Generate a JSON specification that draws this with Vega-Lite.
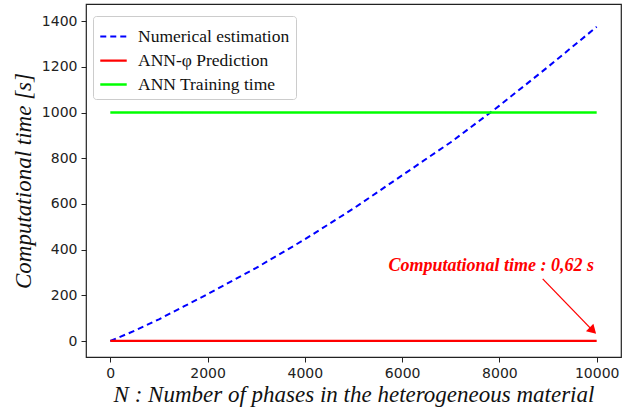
{
  "$schema": "https://vega.github.io/schema/vega-lite/v6.json",
  "width": 535,
  "height": 353,
  "autosize": {"type": "none"},
  "padding": {"left": 86, "top": 4, "right": 1, "bottom": 52},
  "background": "white",
  "config": {
    "view": {"stroke": "#222", "strokeWidth": 1.2},
    "axis": {
      "grid": false,
      "domain": false,
      "tickColor": "#222",
      "tickSize": 5,
      "tickWidth": 1,
      "labelFont": "DejaVu Sans",
      "labelFontSize": 14,
      "labelColor": "#222",
      "titleFont": "Liberation Serif",
      "titleFontStyle": "italic",
      "titleFontWeight": "normal",
      "titleFontSize": 23,
      "titleColor": "#111"
    }
  },
  "datasets": {
    "lines": [
      {"N": 0, "t": 0, "series": "Numerical estimation"},
      {"N": 500, "t": 45, "series": "Numerical estimation"},
      {"N": 1000, "t": 95, "series": "Numerical estimation"},
      {"N": 1500, "t": 150, "series": "Numerical estimation"},
      {"N": 2000, "t": 205, "series": "Numerical estimation"},
      {"N": 3000, "t": 320, "series": "Numerical estimation"},
      {"N": 4000, "t": 445, "series": "Numerical estimation"},
      {"N": 5000, "t": 580, "series": "Numerical estimation"},
      {"N": 6000, "t": 725, "series": "Numerical estimation"},
      {"N": 7000, "t": 870, "series": "Numerical estimation"},
      {"N": 8000, "t": 1030, "series": "Numerical estimation"},
      {"N": 9000, "t": 1200, "series": "Numerical estimation"},
      {"N": 10000, "t": 1375, "series": "Numerical estimation"},
      {"N": 0, "t": 0.62, "series": "ANN-φ Prediction"},
      {"N": 10000, "t": 0.62, "series": "ANN-φ Prediction"},
      {"N": 0, "t": 1000, "series": "ANN Training time"},
      {"N": 10000, "t": 1000, "series": "ANN Training time"}
    ],
    "note": [
      {"N": 7830, "t": 330, "label": "Computational time : 0,62 s"}
    ],
    "arrow": [
      {"N": 8890, "t": 272, "N2": 9900, "t2": 50}
    ],
    "head": [
      {"N": 9900, "t": 50}
    ]
  },
  "layer": [
    {
      "data": {"name": "lines"},
      "mark": {"type": "line", "clip": true},
      "encoding": {
        "x": {
          "field": "N", "type": "quantitative",
          "scale": {"domain": [-500, 10500], "nice": false, "zero": false},
          "axis": {"values": [0, 2000, 4000, 6000, 8000, 10000], "format": "d", "title": "N : Number of phases in the heterogeneous material", "titlePadding": 3, "labelPadding": 4}
        },
        "y": {
          "field": "t", "type": "quantitative",
          "scale": {"domain": [-70, 1475], "nice": false, "zero": false},
          "axis": {"values": [0, 200, 400, 600, 800, 1000, 1200, 1400], "format": "d", "title": "Computational time [s]", "titlePadding": 6, "labelPadding": 4}
        },
        "color": {
          "field": "series", "type": "nominal",
          "scale": {"domain": ["Numerical estimation", "ANN-φ Prediction", "ANN Training time"], "range": ["#0000ff", "#ff0000", "#00ff00"]},
          "legend": {
            "title": null,
            "orient": "none",
            "legendX": 7,
            "legendY": 12,
            "symbolType": "stroke",
            "symbolSize": 700,
            "symbolStrokeWidth": 2,
            "labelFont": "Liberation Serif",
            "labelFontSize": 17.5,
            "labelColor": "#111",
            "labelOffset": 10,
            "rowPadding": 1,
            "padding": 6,
            "fillColor": "white",
            "strokeColor": "#cccccc",
            "cornerRadius": 3
          }
        },
        "strokeDash": {
          "field": "series", "type": "nominal",
          "scale": {"domain": ["Numerical estimation", "ANN-φ Prediction", "ANN Training time"], "range": [[6, 4], [1, 0], [1, 0]]},
          "legend": {
            "title": null,
            "orient": "none",
            "legendX": 7,
            "legendY": 12,
            "symbolType": "stroke",
            "symbolSize": 700,
            "symbolStrokeWidth": 2,
            "labelFont": "Liberation Serif",
            "labelFontSize": 17.5,
            "labelColor": "#111",
            "labelOffset": 10,
            "rowPadding": 1,
            "padding": 6,
            "fillColor": "white",
            "strokeColor": "#cccccc",
            "cornerRadius": 3
          }
        },
        "strokeWidth": {
          "field": "series", "type": "nominal",
          "scale": {"domain": ["Numerical estimation", "ANN-φ Prediction", "ANN Training time"], "range": [2, 2.5, 1.5]},
          "legend": null
        }
      }
    },
    {
      "data": {"name": "note"},
      "mark": {"type": "text", "color": "#ff0000", "font": "Liberation Serif", "fontSize": 18, "fontStyle": "italic", "fontWeight": "bold", "align": "center", "baseline": "middle"},
      "encoding": {
        "x": {"field": "N", "type": "quantitative"},
        "y": {"field": "t", "type": "quantitative"},
        "text": {"field": "label"}
      }
    },
    {
      "data": {"name": "arrow"},
      "mark": {"type": "rule", "color": "#ff0000", "strokeWidth": 1.3},
      "encoding": {
        "x": {"field": "N", "type": "quantitative"},
        "y": {"field": "t", "type": "quantitative"},
        "x2": {"field": "N2"},
        "y2": {"field": "t2"}
      }
    },
    {
      "data": {"name": "head"},
      "mark": {"type": "point", "shape": "triangle", "filled": true, "color": "#ff0000", "size": 110, "angle": 135, "opacity": 1},
      "encoding": {
        "x": {"field": "N", "type": "quantitative"},
        "y": {"field": "t", "type": "quantitative"}
      }
    }
  ]
}
